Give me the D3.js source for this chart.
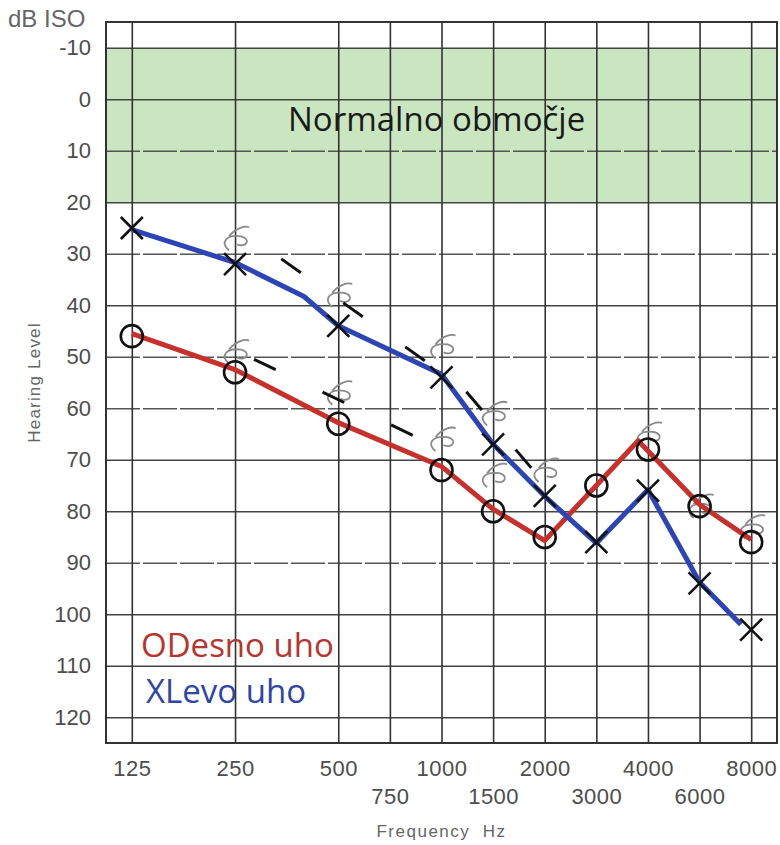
<!DOCTYPE html>
<html lang="sl">
<head>
<meta charset="UTF-8">
<title>Avdiogram</title>
<script src="https://d3js.org/d3.v7.min.js"></script>
<style>
  body { margin: 0; background: #fff; }
  .tick text { font-family: "Liberation Sans", Arial, sans-serif; font-size: 22px; fill: #4d4d4d; }
  .lbl { font-family: "Liberation Sans", Arial, sans-serif; fill: #666; white-space: pre; }
  .big { font-family: "Open Sans", sans-serif; }
</style>
</head>
<body>
<div id="chart"></div>
<script>
// frequencies on the audiogram grid and their half-octave position
const freqs = [125, 250, 500, 750, 1000, 1500, 2000, 3000, 4000, 6000, 8000];
const halfOctave = [0, 2, 4, 5, 6, 7, 8, 9, 10, 11, 12];
const upperRow = [125, 250, 500, 1000, 2000, 4000, 8000];
const dbTicks = [-10, 0, 10, 20, 30, 40, 50, 60, 70, 80, 90, 100, 110, 120];
const dashedDb = [10, 30, 50, 60, 90];
const normalRange = [-10, 20];

// desno uho (O) markers
const rightFreq = [125, 250, 500, 1000, 1500, 2000, 3000, 4000, 6000, 8000];
const rightDb = [46, 53, 63, 72, 80, 85, 75, 68, 79, 86];
// levo uho (X) markers
const leftFreq = [125, 250, 500, 1000, 1500, 2000, 3000, 4000, 6000, 8000];
const leftDb = [25, 32, 44, 54, 67, 77, 86, 76, 94, 103];

// hand drawn lines
const redLineFreq = [125, 250, 500, 1000, 1500, 2000, 3000, 3810, 6000, 8000];
const redLineDb = [45.5, 52.5, 62.8, 71.3, 79.6, 85.7, 75, 66.3, 78.7, 85.5];
const blueLineFreq = [125, 250, 417, 500, 1000, 1500, 2000, 3000, 4000, 6000, 7600];
const blueLineDb = [25.3, 31.7, 38.3, 44, 53.4, 67, 77.1, 86.2, 75.8, 93.8, 102];

// black dashed (bone) lines
const dashUpperFreq = [362, 1206, 1930];
const dashUpperDb = [31, 56, 73];
const dashLowerFreq = [296, 1049];
const dashLowerDb = [50.5, 68.4];

// grey scribbles
const scribFreq = [250, 500, 1000, 1500, 2000, 250, 500, 1000, 1500, 4000, 6000, 8000];
const scribDb = [27, 38, 48, 61, 72, 49, 57, 66, 73, 65, 79, 83];

const width = 780, height = 845;
const margin = {top: 22, right: 3, bottom: 102, left: 106};

const svg = d3.select("#chart").append("svg")
  .attr("width", width).attr("height", height);

const pos = d3.scaleLinear().domain([-0.5, 12.5]).range([margin.left, width - margin.right]);
const x = d3.scaleLinear().domain(freqs).range(halfOctave.map(pos));
const y = d3.scaleLinear().domain([-15, 125]).range([margin.top, height - margin.bottom]);

// normal range band
svg.append("rect")
  .attr("x", margin.left).attr("width", width - margin.right - margin.left)
  .attr("y", y(normalRange[0])).attr("height", y(normalRange[1]) - y(normalRange[0]))
  .attr("fill", "#c9e6c1");

// horizontal grid + labels
svg.append("g")
  .attr("transform", `translate(${margin.left},0)`)
  .call(d3.axisLeft(y).tickValues(dbTicks).tickFormat(d => String(d))
    .tickSize(-(width - margin.right - margin.left)).tickPadding(15))
  .call(g => g.select(".domain").remove())
  .call(g => g.selectAll(".tick line")
    .attr("stroke", d => dashedDb.includes(d) ? "#555" : "#444").attr("stroke-width", 1.5)
    .attr("stroke-dasharray", d => dashedDb.includes(d) ? "34,3" : null));

// vertical grid + labels
svg.append("g")
  .attr("transform", `translate(0,${height - margin.bottom})`)
  .call(d3.axisBottom(x).tickValues(freqs).tickFormat(d => String(d))
    .tickSize(-(height - margin.bottom - margin.top)))
  .call(g => g.select(".domain").remove())
  .call(g => g.selectAll(".tick line").attr("stroke", "#333").attr("stroke-width", 1.6))
  .call(g => g.selectAll(".tick text")
    .attr("dy", null)
    .attr("y", d => upperRow.includes(d) ? 33 : 61)
    .attr("letter-spacing", 0.5));

// frame
svg.append("rect")
  .attr("x", margin.left).attr("y", margin.top)
  .attr("width", width - margin.right - margin.left)
  .attr("height", height - margin.bottom - margin.top)
  .attr("fill", "none").attr("stroke", "#333").attr("stroke-width", 2);

svg.append("text").attr("class", "lbl")
  .attr("x", 8).attr("y", 27).attr("font-size", 24).attr("fill", "#4d4d4d")
  .text("dB ISO");

svg.append("text").attr("class", "lbl")
  .attr("transform", `translate(40,${y(55)}) rotate(-90)`)
  .attr("text-anchor", "middle").attr("font-size", 17).attr("letter-spacing", 1.2)
  .attr("fill", "#888")
  .text("Hearing Level");

svg.append("text").attr("class", "lbl")
  .attr("x", (margin.left + width - margin.right) / 2).attr("y", 837)
  .attr("text-anchor", "middle").attr("font-size", 17).attr("letter-spacing", 1.5)
  .text("Frequency  Hz");

svg.append("text").attr("class", "big")
  .attr("x", 288).attr("y", 131).attr("font-size", 33).attr("fill", "#1a1a1a")
  .text("Normalno območje");

// scribbles
svg.append("g").selectAll("path")
  .data(scribFreq.map((f, i) => [f, scribDb[i]]))
  .join("path")
    .attr("transform", d => `translate(${x(d[0])},${y(d[1])})`)
    .attr("d", "M-6,12 C-16,4 -8,-4 6,-2 C16,0 12,10 2,6 M-6,-2 C0,-10 10,-13 14,-11")
    .attr("fill", "none").attr("stroke", "#8a8a8a").attr("stroke-width", 1.8);

// dashed lines
const line = d3.line().x(d => x(d[0])).y(d => y(d[1]));
[[dashUpperFreq, dashUpperDb], [dashLowerFreq, dashLowerDb]].forEach(([fs, ds]) => {
  svg.append("path")
    .attr("d", line(fs.map((f, i) => [f, ds[i]])))
    .attr("fill", "none").attr("stroke", "#111").attr("stroke-width", 3)
    .attr("stroke-dasharray", "24,52");
});

// ear lines
svg.append("path")
  .attr("d", line(redLineFreq.map((f, i) => [f, redLineDb[i]])))
  .attr("fill", "none").attr("stroke", "#c8302c").attr("stroke-width", 5)
  .attr("stroke-linejoin", "round");
svg.append("path")
  .attr("d", line(blueLineFreq.map((f, i) => [f, blueLineDb[i]])))
  .attr("fill", "none").attr("stroke", "#2c44b6").attr("stroke-width", 5)
  .attr("stroke-linejoin", "round");

// O markers
svg.append("g").selectAll("circle")
  .data(rightFreq.map((f, i) => [f, rightDb[i]]))
  .join("circle")
    .attr("cx", d => x(d[0])).attr("cy", d => y(d[1])).attr("r", 11)
    .attr("fill", "none").attr("stroke", "#111").attr("stroke-width", 2.6);

// X markers
svg.append("g").selectAll("path")
  .data(leftFreq.map((f, i) => [f, leftDb[i]]))
  .join("path")
    .attr("transform", d => `translate(${x(d[0])},${y(d[1])})`)
    .attr("d", "M-11,-11L11,11M-11,11L11,-11")
    .attr("stroke", "#111").attr("stroke-width", 2.6);

// legend
svg.append("text").attr("class", "big")
  .attr("x", 141).attr("y", 657).attr("font-size", 33).attr("fill", "#b8342e")
  .text("ODesno uho");
svg.append("text").attr("class", "big")
  .attr("x", 146).attr("y", 703).attr("font-size", 33).attr("fill", "#2f45a8")
  .text("XLevo uho");
</script>
</body>
</html>
